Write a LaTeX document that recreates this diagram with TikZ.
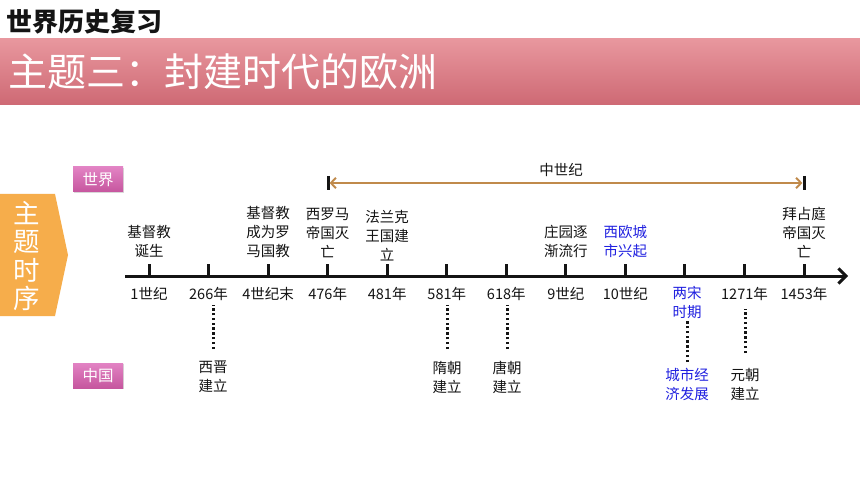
\documentclass[tikz,border=0pt]{standalone}
\usepackage{fontspec}
\setmainfont{Noto Sans CJK SC}
\usetikzlibrary{arrows.meta,shadows,calc}
\definecolor{bandtop}{HTML}{E8979E}
\definecolor{bandmid}{HTML}{E57E89}
\definecolor{bandbot}{HTML}{CE6974}
\definecolor{tagtop}{HTML}{E283C4}
\definecolor{tagbot}{HTML}{C6569E}
\definecolor{orangebox}{HTML}{F6AD4B}
\definecolor{medbrown}{HTML}{C08A4B}
\definecolor{cityblue}{HTML}{2020E0}
\definecolor{ink}{HTML}{141414}
\begin{document}
\begin{tikzpicture}[x=1pt,y=-1pt,
  lbl/.style={font=\fontsize{14.5}{19}\selectfont, align=center, inner sep=0pt, text=ink},
  uplbl/.style={lbl, anchor=south},
  dnlbl/.style={lbl, anchor=north},
  bluetxt/.style={text=cityblue},
  tagbox/.style={draw=none, top color=tagtop, bottom color=tagbot, minimum width=50pt,
    minimum height=25pt, inner sep=0pt, text=white, font=\fontsize{15.5}{15.5}\selectfont,
    drop shadow={opacity=0.3,shadow xshift=1pt,shadow yshift=-1.2pt}},
  tickln/.style={line width=3pt, ink},
  dotln/.style={line width=3pt, ink, dash pattern=on 2.4pt off 2.4pt},
]
\useasboundingbox (0,0) rectangle (860,484);
\fill[white] (0,0) rectangle (860,484);

% header
\node[anchor=west, font=\fontsize{26}{26}\selectfont\bfseries, text=ink, inner sep=0pt] (hdr) at (6,22) {世界历史复习};
\shade[top color=bandtop, middle color=bandmid, bottom color=bandbot] (0,39) rectangle (860,105);
\node[anchor=west, font=\fontsize{39}{39}\selectfont, text=white, inner sep=0pt] (ttl) at (8,72) {主题三：封建时代的欧洲};

% left orange tab
\fill[orangebox] (0,194) -- (55,194) -- (68,255) -- (55,316) -- (0,316) -- cycle;
\node[font=\fontsize{26.5}{28.5}\selectfont, align=center, text=white, inner sep=0pt] (side) at (27,256) {主\\题\\时\\序};

% tags
\node[tagbox] (world) at (98,179.5) {世界};
\node[tagbox] (china) at (98,375.5) {中国};

% axis
\coordinate (ax0) at (125,276);
\coordinate (ax1) at (848,276);
\draw[line width=3pt, ink, -{Straight Barb[length=7.5pt,width=15pt]}] (ax0) -- (ax1);
\foreach \i in {0,...,11} {
  \coordinate (t\i) at ({149+59.55*\i},276);
  \draw[tickln] (t\i) -- ++(0,-12.5);
}

% medieval span
\coordinate (m0) at (328,183);
\coordinate (m1) at (804,183);
\draw[tickln] ($(m0)+(0,-7)$) -- ($(m0)+(0,7)$);
\draw[tickln] ($(m1)+(0,-7)$) -- ($(m1)+(0,7)$);
\draw[medbrown, line width=1.9pt, shorten <=1.6pt, shorten >=1.6pt,
  {Straight Barb[length=5pt,width=10.5pt]}-{Straight Barb[length=5pt,width=10.5pt]}] (m0) -- (m1);
\node[lbl] (mid) at (561,170) {中世纪};

% labels above the axis
\node[uplbl] (u0) at (149,258) {基督教\\诞生};
\node[uplbl] (u2) at (268.1,258) {基督教\\成为罗\\马国教};
\node[uplbl] (u3) at (327.7,258) {西罗马\\帝国灭\\亡};
\node[uplbl] (u4) at (387.2,261) {法兰克\\王国建\\立};
\node[uplbl] (u7) at (565.9,258) {庄园逐\\渐流行};
\node[uplbl, bluetxt] (u8) at (625.4,258) {西欧城\\市兴起};
\node[uplbl] (u11) at (804,258) {拜占庭\\帝国灭\\亡};

% labels below the axis
\node[dnlbl] (d0) at (149,287) {1世纪};
\node[dnlbl] (d1) at (208.5,287) {266年};
\node[dnlbl] (d2) at (268.1,287) {4世纪末};
\node[dnlbl] (d3) at (327.7,287) {476年};
\node[dnlbl] (d4) at (387.2,287) {481年};
\node[dnlbl] (d5) at (446.8,287) {581年};
\node[dnlbl] (d6) at (506.3,287) {618年};
\node[dnlbl] (d7) at (565.9,287) {9世纪};
\node[dnlbl] (d8) at (625.4,287) {10世纪};
\node[dnlbl, bluetxt] (d9) at (687,286) {两宋\\时期};
\node[dnlbl] (d10) at (744.5,287) {1271年};
\node[dnlbl] (d11) at (804,287) {1453年};

% China events
\node[dnlbl] (xijin) at (213,361) {西晋\\建立};
\node[dnlbl] (sui) at (447,361) {隋朝\\建立};
\node[dnlbl] (tang) at (507,361) {唐朝\\建立};
\node[dnlbl, bluetxt] (city) at (687,368) {城市经\\济发展};
\node[dnlbl] (yuan) at (745,368) {元朝\\建立};

% dotted links
\draw[dotln] ($(xijin.north)+(0,-12)$) -- ($(xijin.north)+(0,-56)$);
\draw[dotln] ($(sui.north)+(0,-12)$) -- ($(sui.north)+(0,-56)$);
\draw[dotln] ($(tang.north)+(0,-12)$) -- ($(tang.north)+(0,-56)$);
\draw[dotln] ($(city.north)+(0,-6)$) -- (d9.south);
\draw[dotln] ($(yuan.north)+(0,-15)$) -- ($(yuan.north)+(0,-59)$);
\end{tikzpicture}
\end{document}
